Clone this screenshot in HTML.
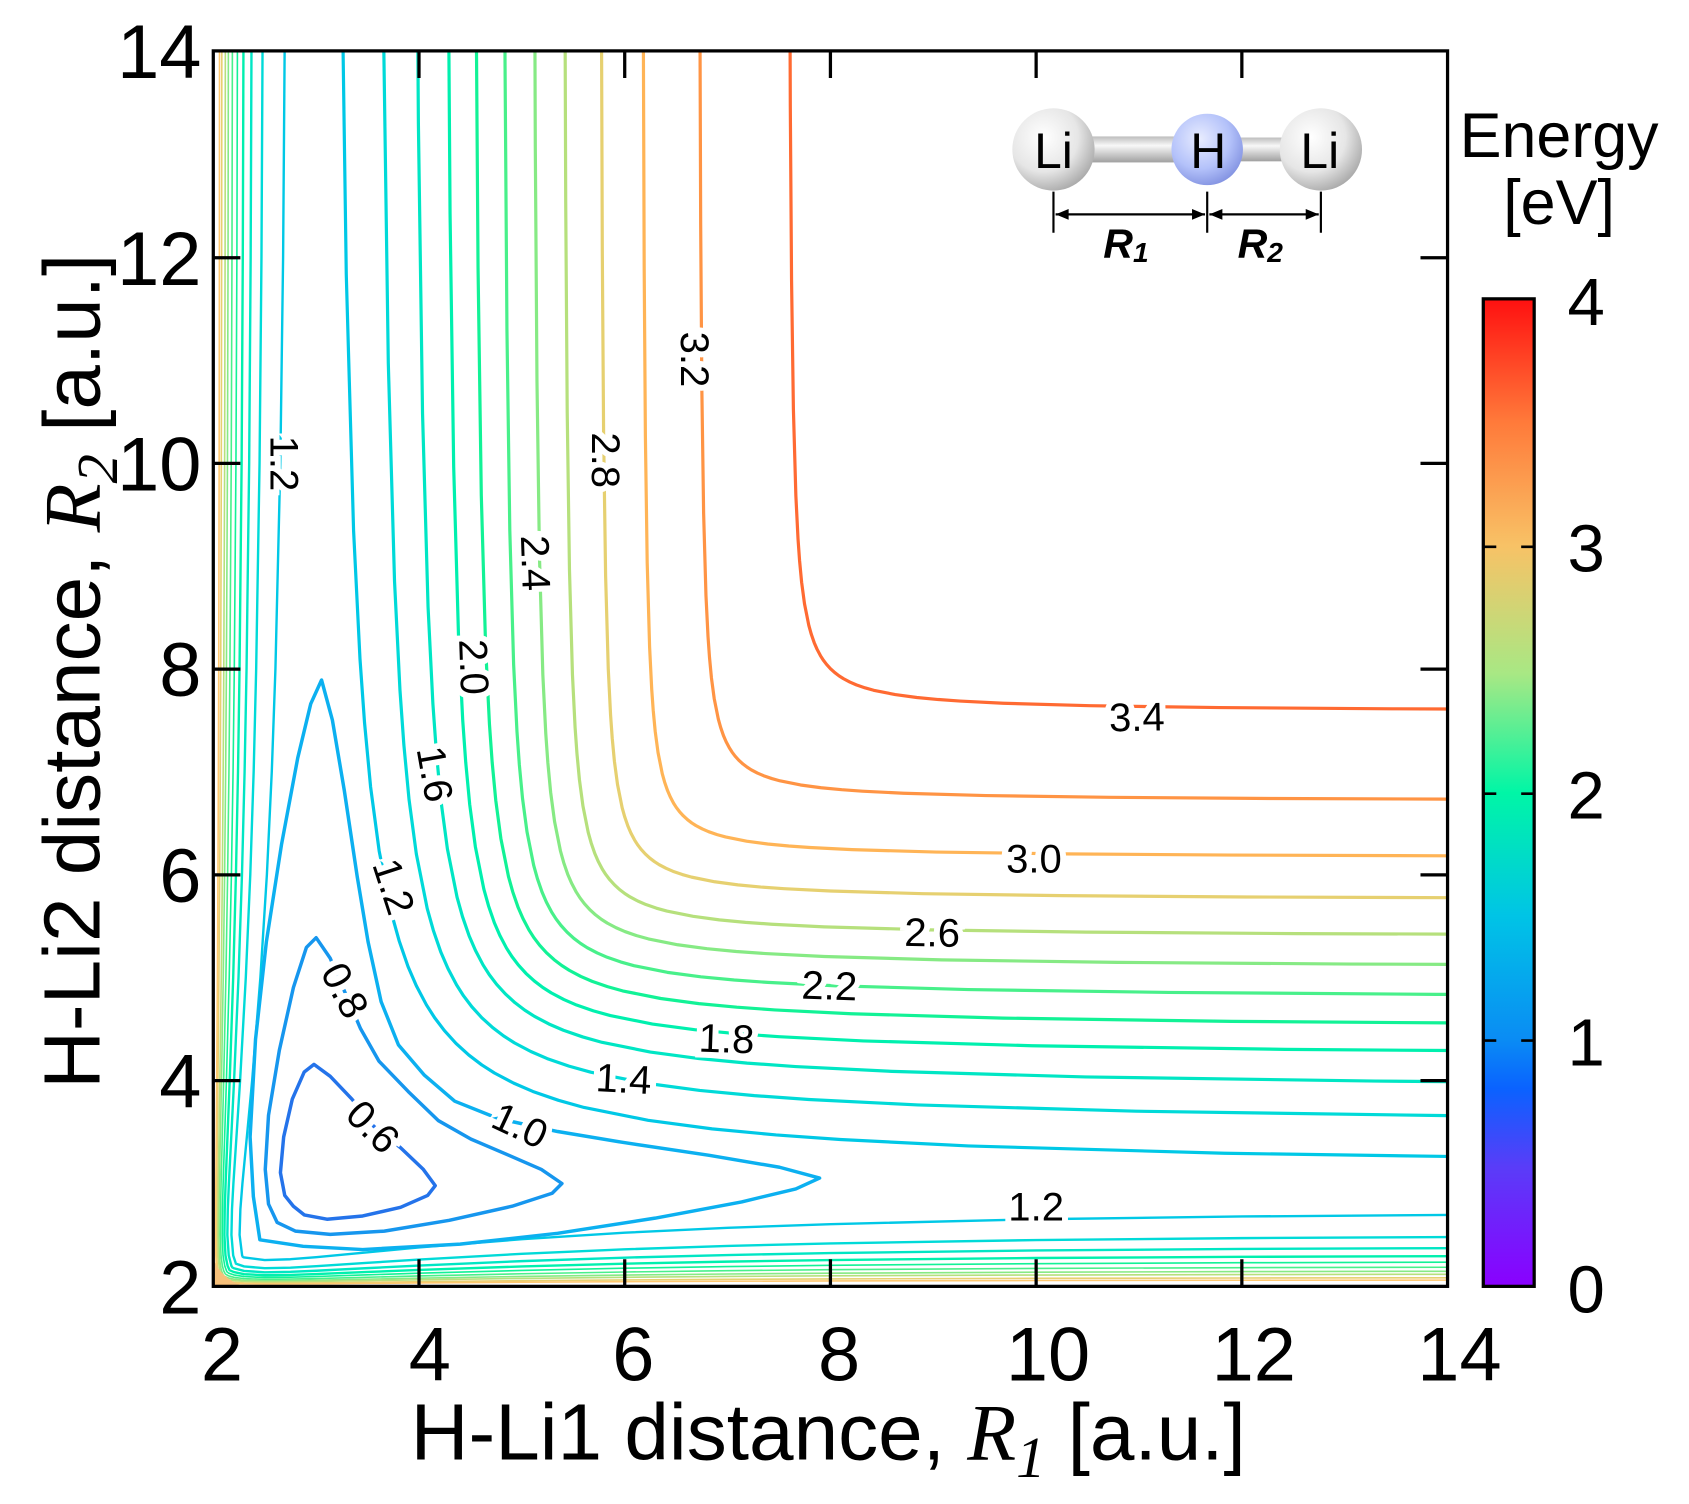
<!DOCTYPE html>
<html><head><meta charset="utf-8">
<style>
html,body{margin:0;padding:0;background:#fff;}
svg{display:block;}
text{font-family:"Liberation Sans",Arial,sans-serif;}
.lab{font-size:37px;fill:#000;stroke:#fff;stroke-width:11px;paint-order:stroke;text-anchor:middle;dominant-baseline:central;}
.tk{font-size:70px;fill:#000;}
.c{fill:none;stroke-width:3.2;stroke-linejoin:round;vector-effect:non-scaling-stroke;}
.o{fill:none;stroke-width:2.4;stroke-linejoin:round;vector-effect:non-scaling-stroke;}
.oh{fill:none;stroke-width:1.6;stroke-linejoin:round;vector-effect:non-scaling-stroke;}
.t{fill:none;stroke-width:3.2;stroke-linejoin:round;}
</style></head>
<body>
<svg width="1689" height="1504" viewBox="0 0 1560 1389" preserveAspectRatio="none" xmlns="http://www.w3.org/2000/svg">
<defs>
<linearGradient id="cb" x1="0" y1="1" x2="0" y2="0">
<stop offset="0" stop-color="#8a00ff"/>
<stop offset="0.12" stop-color="#5a3cf8"/>
<stop offset="0.2" stop-color="#0a62ff"/>
<stop offset="0.25" stop-color="#0a8cf4"/>
<stop offset="0.375" stop-color="#00c4e6"/>
<stop offset="0.5" stop-color="#00f6a6"/>
<stop offset="0.62" stop-color="#a8e884"/>
<stop offset="0.75" stop-color="#f8c266"/>
<stop offset="0.875" stop-color="#ff7a3a"/>
<stop offset="1" stop-color="#ff1010"/>
</linearGradient>
<radialGradient id="li" cx="0.38" cy="0.35" r="0.7">
<stop offset="0" stop-color="#ffffff"/><stop offset="0.6" stop-color="#e6e6e6"/><stop offset="1" stop-color="#a8a8a8"/>
</radialGradient>
<radialGradient id="hh" cx="0.4" cy="0.35" r="0.7">
<stop offset="0" stop-color="#e8ecff"/><stop offset="0.6" stop-color="#b4c2fa"/><stop offset="1" stop-color="#8090e0"/>
</radialGradient>
<linearGradient id="bond" x1="0" y1="0" x2="0" y2="1">
<stop offset="0" stop-color="#bdbdbd"/><stop offset="0.35" stop-color="#f8f8f8"/><stop offset="1" stop-color="#a0a0a0"/>
</linearGradient>
<clipPath id="pc"><rect x="197" y="47" width="1140" height="1141"/></clipPath>
<clipPath id="lowc"><polygon points="197,1188 1337,47 1340,47 1340,1190 197,1190"/></clipPath>
<clipPath id="upc"><polygon points="197,1188 1337,47 195,45 195,1188"/></clipPath>
<path id="hyp" d="M0.05,20L0.0714,14L0.1,10L0.1429,7L0.2,5L0.25,4L0.2857,3.5L0.333,3L0.4,2.5L0.5,2L0.556,1.8L0.625,1.6L0.69,1.45L0.769,1.3L0.833,1.2L0.909,1.1L1,1L1.1,0.909L1.2,0.833L1.3,0.769L1.45,0.69L1.6,0.625L1.8,0.556L2,0.5L2.5,0.4L3,0.333L3.5,0.2857L4,0.25L5,0.2L7,0.1429L10,0.1L14,0.0714L20,0.05"/>
</defs>

<g clip-path="url(#pc)">
<g transform="matrix(95 0 0 -95.08 7 1378.16)">
<g transform="translate(3.115 3.115) scale(1.245)"><path class="c" stroke="#00c8e6" d="M0.05,20L0.0714,14L0.1,10L0.1429,7L0.2,5L0.25,4L0.2857,3.5L0.333,3L0.4,2.5L0.5,2L0.556,1.8L0.625,1.6L0.69,1.45L0.769,1.3L0.833,1.2L0.909,1.1L1,1L1.1,0.909L1.2,0.833L1.3,0.769L1.45,0.69L1.6,0.625L1.8,0.556L2,0.5L2.5,0.4L3,0.333L3.5,0.2857L4,0.25L5,0.2L7,0.1429L10,0.1L14,0.0714L20,0.05"/></g>
<g transform="translate(3.55 3.55) scale(1.06)"><path class="c" stroke="#00dad8" d="M0.05,20L0.0714,14L0.1,10L0.1429,7L0.2,5L0.25,4L0.2857,3.5L0.333,3L0.4,2.5L0.5,2L0.556,1.8L0.625,1.6L0.69,1.45L0.769,1.3L0.833,1.2L0.909,1.1L1,1L1.1,0.909L1.2,0.833L1.3,0.769L1.45,0.69L1.6,0.625L1.8,0.556L2,0.5L2.5,0.4L3,0.333L3.5,0.2857L4,0.25L5,0.2L7,0.1429L10,0.1L14,0.0714L20,0.05"/></g>
<g transform="translate(3.9 3.9) scale(0.94)"><path class="c" stroke="#00e6c4" d="M0.05,20L0.0714,14L0.1,10L0.1429,7L0.2,5L0.25,4L0.2857,3.5L0.333,3L0.4,2.5L0.5,2L0.556,1.8L0.625,1.6L0.69,1.45L0.769,1.3L0.833,1.2L0.909,1.1L1,1L1.1,0.909L1.2,0.833L1.3,0.769L1.45,0.69L1.6,0.625L1.8,0.556L2,0.5L2.5,0.4L3,0.333L3.5,0.2857L4,0.25L5,0.2L7,0.1429L10,0.1L14,0.0714L20,0.05"/></g>
<g transform="translate(4.22 4.22) scale(0.82)"><path class="c" stroke="#00f0ae" d="M0.05,20L0.0714,14L0.1,10L0.1429,7L0.2,5L0.25,4L0.2857,3.5L0.333,3L0.4,2.5L0.5,2L0.556,1.8L0.625,1.6L0.69,1.45L0.769,1.3L0.833,1.2L0.909,1.1L1,1L1.1,0.909L1.2,0.833L1.3,0.769L1.45,0.69L1.6,0.625L1.8,0.556L2,0.5L2.5,0.4L3,0.333L3.5,0.2857L4,0.25L5,0.2L7,0.1429L10,0.1L14,0.0714L20,0.05"/></g>
<g transform="translate(4.5 4.5) scale(0.74)"><path class="c" stroke="#12f296" d="M0.05,20L0.0714,14L0.1,10L0.1429,7L0.2,5L0.25,4L0.2857,3.5L0.333,3L0.4,2.5L0.5,2L0.556,1.8L0.625,1.6L0.69,1.45L0.769,1.3L0.833,1.2L0.909,1.1L1,1L1.1,0.909L1.2,0.833L1.3,0.769L1.45,0.69L1.6,0.625L1.8,0.556L2,0.5L2.5,0.4L3,0.333L3.5,0.2857L4,0.25L5,0.2L7,0.1429L10,0.1L14,0.0714L20,0.05"/></g>
<g transform="translate(4.79 4.79) scale(0.65)"><path class="c" stroke="#48f08a" d="M0.05,20L0.0714,14L0.1,10L0.1429,7L0.2,5L0.25,4L0.2857,3.5L0.333,3L0.4,2.5L0.5,2L0.556,1.8L0.625,1.6L0.69,1.45L0.769,1.3L0.833,1.2L0.909,1.1L1,1L1.1,0.909L1.2,0.833L1.3,0.769L1.45,0.69L1.6,0.625L1.8,0.556L2,0.5L2.5,0.4L3,0.333L3.5,0.2857L4,0.25L5,0.2L7,0.1429L10,0.1L14,0.0714L20,0.05"/></g>
<g transform="translate(5.09 5.09) scale(0.57)"><path class="c" stroke="#86ea84" d="M0.05,20L0.0714,14L0.1,10L0.1429,7L0.2,5L0.25,4L0.2857,3.5L0.333,3L0.4,2.5L0.5,2L0.556,1.8L0.625,1.6L0.69,1.45L0.769,1.3L0.833,1.2L0.909,1.1L1,1L1.1,0.909L1.2,0.833L1.3,0.769L1.45,0.69L1.6,0.625L1.8,0.556L2,0.5L2.5,0.4L3,0.333L3.5,0.2857L4,0.25L5,0.2L7,0.1429L10,0.1L14,0.0714L20,0.05"/></g>
<g transform="translate(5.39 5.39) scale(0.51)"><path class="c" stroke="#b6e07c" d="M0.05,20L0.0714,14L0.1,10L0.1429,7L0.2,5L0.25,4L0.2857,3.5L0.333,3L0.4,2.5L0.5,2L0.556,1.8L0.625,1.6L0.69,1.45L0.769,1.3L0.833,1.2L0.909,1.1L1,1L1.1,0.909L1.2,0.833L1.3,0.769L1.45,0.69L1.6,0.625L1.8,0.556L2,0.5L2.5,0.4L3,0.333L3.5,0.2857L4,0.25L5,0.2L7,0.1429L10,0.1L14,0.0714L20,0.05"/></g>
<g transform="translate(5.75 5.75) scale(0.45)"><path class="c" stroke="#e6d070" d="M0.05,20L0.0714,14L0.1,10L0.1429,7L0.2,5L0.25,4L0.2857,3.5L0.333,3L0.4,2.5L0.5,2L0.556,1.8L0.625,1.6L0.69,1.45L0.769,1.3L0.833,1.2L0.909,1.1L1,1L1.1,0.909L1.2,0.833L1.3,0.769L1.45,0.69L1.6,0.625L1.8,0.556L2,0.5L2.5,0.4L3,0.333L3.5,0.2857L4,0.25L5,0.2L7,0.1429L10,0.1L14,0.0714L20,0.05"/></g>
<g transform="translate(6.16 6.16) scale(0.41)"><path class="c" stroke="#ffb456" d="M0.05,20L0.0714,14L0.1,10L0.1429,7L0.2,5L0.25,4L0.2857,3.5L0.333,3L0.4,2.5L0.5,2L0.556,1.8L0.625,1.6L0.69,1.45L0.769,1.3L0.833,1.2L0.909,1.1L1,1L1.1,0.909L1.2,0.833L1.3,0.769L1.45,0.69L1.6,0.625L1.8,0.556L2,0.5L2.5,0.4L3,0.333L3.5,0.2857L4,0.25L5,0.2L7,0.1429L10,0.1L14,0.0714L20,0.05"/></g>
<g transform="translate(6.71 6.71) scale(0.4)"><path class="c" stroke="#ff9444" d="M0.05,20L0.0714,14L0.1,10L0.1429,7L0.2,5L0.25,4L0.2857,3.5L0.333,3L0.4,2.5L0.5,2L0.556,1.8L0.625,1.6L0.69,1.45L0.769,1.3L0.833,1.2L0.909,1.1L1,1L1.1,0.909L1.2,0.833L1.3,0.769L1.45,0.69L1.6,0.625L1.8,0.556L2,0.5L2.5,0.4L3,0.333L3.5,0.2857L4,0.25L5,0.2L7,0.1429L10,0.1L14,0.0714L20,0.05"/></g>
<g transform="translate(7.58 7.58) scale(0.42)"><path class="c" stroke="#ff6a32" d="M0.05,20L0.0714,14L0.1,10L0.1429,7L0.2,5L0.25,4L0.2857,3.5L0.333,3L0.4,2.5L0.5,2L0.556,1.8L0.625,1.6L0.69,1.45L0.769,1.3L0.833,1.2L0.909,1.1L1,1L1.1,0.909L1.2,0.833L1.3,0.769L1.45,0.69L1.6,0.625L1.8,0.556L2,0.5L2.5,0.4L3,0.333L3.5,0.2857L4,0.25L5,0.2L7,0.1429L10,0.1L14,0.0714L20,0.05"/></g>
</g>

<g clip-path="url(#lowc)"><g transform="matrix(95 0 0 -95.08 7 1378.16) translate(2 2)">
<g transform="scale(1 0.71)"><path class="o" stroke="#00c8e6" d="M0,2.44L0.005,2.11L0.01,1.86L0.02,1.515L0.04,1.12L0.07,0.827L0.1,0.673L0.15,0.536L0.2,0.463L0.3,0.395L0.5,0.36L0.75,0.371L1,0.399L1.5,0.466L2,0.532L3,0.645L4,0.734L5,0.801L6,0.851L8,0.918L10,0.956L12.2,0.979"/></g>
<g transform="scale(1 0.49)"><path class="o" stroke="#00dad8" d="M0,2.44L0.005,2.11L0.01,1.86L0.02,1.515L0.04,1.12L0.07,0.827L0.1,0.673L0.15,0.536L0.2,0.463L0.3,0.395L0.5,0.36L0.75,0.371L1,0.399L1.5,0.466L2,0.532L3,0.645L4,0.734L5,0.801L6,0.851L8,0.918L10,0.956L12.2,0.979"/></g>
<g transform="scale(1 0.38)"><path class="o" stroke="#00e6c4" d="M0,2.44L0.005,2.11L0.01,1.86L0.02,1.515L0.04,1.12L0.07,0.827L0.1,0.673L0.15,0.536L0.2,0.463L0.3,0.395L0.5,0.36L0.75,0.371L1,0.399L1.5,0.466L2,0.532L3,0.645L4,0.734L5,0.801L6,0.851L8,0.918L10,0.956L12.2,0.979"/></g>
<g transform="scale(1 0.30)"><path class="o" stroke="#00f0ae" d="M0,2.44L0.005,2.11L0.01,1.86L0.02,1.515L0.04,1.12L0.07,0.827L0.1,0.673L0.15,0.536L0.2,0.463L0.3,0.395L0.5,0.36L0.75,0.371L1,0.399L1.5,0.466L2,0.532L3,0.645L4,0.734L5,0.801L6,0.851L8,0.918L10,0.956L12.2,0.979"/></g>
<g transform="scale(1 0.24)"><path class="oh" stroke="#12f296" d="M0,2.44L0.005,2.11L0.01,1.86L0.02,1.515L0.04,1.12L0.07,0.827L0.1,0.673L0.15,0.536L0.2,0.463L0.3,0.395L0.5,0.36L0.75,0.371L1,0.399L1.5,0.466L2,0.532L3,0.645L4,0.734L5,0.801L6,0.851L8,0.918L10,0.956L12.2,0.979"/></g>
<g transform="scale(1 0.19)"><path class="oh" stroke="#48f08a" d="M0,2.44L0.005,2.11L0.01,1.86L0.02,1.515L0.04,1.12L0.07,0.827L0.1,0.673L0.15,0.536L0.2,0.463L0.3,0.395L0.5,0.36L0.75,0.371L1,0.399L1.5,0.466L2,0.532L3,0.645L4,0.734L5,0.801L6,0.851L8,0.918L10,0.956L12.2,0.979"/></g>
<g transform="scale(1 0.15)"><path class="oh" stroke="#86ea84" d="M0,2.44L0.005,2.11L0.01,1.86L0.02,1.515L0.04,1.12L0.07,0.827L0.1,0.673L0.15,0.536L0.2,0.463L0.3,0.395L0.5,0.36L0.75,0.371L1,0.399L1.5,0.466L2,0.532L3,0.645L4,0.734L5,0.801L6,0.851L8,0.918L10,0.956L12.2,0.979"/></g>
<g transform="scale(1 0.12)"><path class="oh" stroke="#b6e07c" d="M0,2.44L0.005,2.11L0.01,1.86L0.02,1.515L0.04,1.12L0.07,0.827L0.1,0.673L0.15,0.536L0.2,0.463L0.3,0.395L0.5,0.36L0.75,0.371L1,0.399L1.5,0.466L2,0.532L3,0.645L4,0.734L5,0.801L6,0.851L8,0.918L10,0.956L12.2,0.979"/></g>
<g transform="scale(1 0.085)"><path class="oh" stroke="#e6d070" d="M0,2.44L0.005,2.11L0.01,1.86L0.02,1.515L0.04,1.12L0.07,0.827L0.1,0.673L0.15,0.536L0.2,0.463L0.3,0.395L0.5,0.36L0.75,0.371L1,0.399L1.5,0.466L2,0.532L3,0.645L4,0.734L5,0.801L6,0.851L8,0.918L10,0.956L12.2,0.979"/></g>
<g transform="scale(1 0.062)"><path class="oh" stroke="#ffc870" d="M0,2.44L0.005,2.11L0.01,1.86L0.02,1.515L0.04,1.12L0.07,0.827L0.1,0.673L0.15,0.536L0.2,0.463L0.3,0.395L0.5,0.36L0.75,0.371L1,0.399L1.5,0.466L2,0.532L3,0.645L4,0.734L5,0.801L6,0.851L8,0.918L10,0.956L12.2,0.979"/></g>
</g></g>

<g clip-path="url(#upc)"><g transform="matrix(95 0 0 -95.08 7 1378.16) translate(2 2)">
<g transform="scale(0.71 1)"><path class="o" stroke="#00c8e6" d="M2.44,0L2.11,0.005L1.86,0.01L1.515,0.02L1.12,0.04L0.827,0.07L0.673,0.1L0.536,0.15L0.463,0.2L0.395,0.3L0.36,0.5L0.371,0.75L0.399,1L0.466,1.5L0.532,2L0.645,3L0.734,4L0.801,5L0.851,6L0.918,8L0.956,10L0.979,12.2"/></g>
<g transform="scale(0.49 1)"><path class="o" stroke="#00dad8" d="M2.44,0L2.11,0.005L1.86,0.01L1.515,0.02L1.12,0.04L0.827,0.07L0.673,0.1L0.536,0.15L0.463,0.2L0.395,0.3L0.36,0.5L0.371,0.75L0.399,1L0.466,1.5L0.532,2L0.645,3L0.734,4L0.801,5L0.851,6L0.918,8L0.956,10L0.979,12.2"/></g>
<g transform="scale(0.38 1)"><path class="o" stroke="#00e6c4" d="M2.44,0L2.11,0.005L1.86,0.01L1.515,0.02L1.12,0.04L0.827,0.07L0.673,0.1L0.536,0.15L0.463,0.2L0.395,0.3L0.36,0.5L0.371,0.75L0.399,1L0.466,1.5L0.532,2L0.645,3L0.734,4L0.801,5L0.851,6L0.918,8L0.956,10L0.979,12.2"/></g>
<g transform="scale(0.30 1)"><path class="o" stroke="#00f0ae" d="M2.44,0L2.11,0.005L1.86,0.01L1.515,0.02L1.12,0.04L0.827,0.07L0.673,0.1L0.536,0.15L0.463,0.2L0.395,0.3L0.36,0.5L0.371,0.75L0.399,1L0.466,1.5L0.532,2L0.645,3L0.734,4L0.801,5L0.851,6L0.918,8L0.956,10L0.979,12.2"/></g>
<g transform="scale(0.24 1)"><path class="oh" stroke="#12f296" d="M2.44,0L2.11,0.005L1.86,0.01L1.515,0.02L1.12,0.04L0.827,0.07L0.673,0.1L0.536,0.15L0.463,0.2L0.395,0.3L0.36,0.5L0.371,0.75L0.399,1L0.466,1.5L0.532,2L0.645,3L0.734,4L0.801,5L0.851,6L0.918,8L0.956,10L0.979,12.2"/></g>
<g transform="scale(0.19 1)"><path class="oh" stroke="#48f08a" d="M2.44,0L2.11,0.005L1.86,0.01L1.515,0.02L1.12,0.04L0.827,0.07L0.673,0.1L0.536,0.15L0.463,0.2L0.395,0.3L0.36,0.5L0.371,0.75L0.399,1L0.466,1.5L0.532,2L0.645,3L0.734,4L0.801,5L0.851,6L0.918,8L0.956,10L0.979,12.2"/></g>
<g transform="scale(0.15 1)"><path class="oh" stroke="#86ea84" d="M2.44,0L2.11,0.005L1.86,0.01L1.515,0.02L1.12,0.04L0.827,0.07L0.673,0.1L0.536,0.15L0.463,0.2L0.395,0.3L0.36,0.5L0.371,0.75L0.399,1L0.466,1.5L0.532,2L0.645,3L0.734,4L0.801,5L0.851,6L0.918,8L0.956,10L0.979,12.2"/></g>
<g transform="scale(0.12 1)"><path class="oh" stroke="#b6e07c" d="M2.44,0L2.11,0.005L1.86,0.01L1.515,0.02L1.12,0.04L0.827,0.07L0.673,0.1L0.536,0.15L0.463,0.2L0.395,0.3L0.36,0.5L0.371,0.75L0.399,1L0.466,1.5L0.532,2L0.645,3L0.734,4L0.801,5L0.851,6L0.918,8L0.956,10L0.979,12.2"/></g>
<g transform="scale(0.085 1)"><path class="oh" stroke="#e6d070" d="M2.44,0L2.11,0.005L1.86,0.01L1.515,0.02L1.12,0.04L0.827,0.07L0.673,0.1L0.536,0.15L0.463,0.2L0.395,0.3L0.36,0.5L0.371,0.75L0.399,1L0.466,1.5L0.532,2L0.645,3L0.734,4L0.801,5L0.851,6L0.918,8L0.956,10L0.979,12.2"/></g>
<g transform="scale(0.062 1)"><path class="oh" stroke="#ffc870" d="M2.44,0L2.11,0.005L1.86,0.01L1.515,0.02L1.12,0.04L0.827,0.07L0.673,0.1L0.536,0.15L0.463,0.2L0.395,0.3L0.36,0.5L0.371,0.75L0.399,1L0.466,1.5L0.532,2L0.645,3L0.734,4L0.801,5L0.851,6L0.918,8L0.956,10L0.979,12.2"/></g>
</g></g>

<path class="t" stroke="#0cb0f0" d="M392,993L368,965L352,925L340,870L330,810L318,730L307,665L297,628L287,650L275,700L260,780L246,870L236,960L231,1050L234,1105L240,1145L280,1151L335,1154L425,1149L515,1139L605,1125L685,1110L735,1098L757,1088L720,1078L655,1067L575,1055L515,1045L460,1033L420,1017Z"/>
<path class="t" stroke="#1696ee" d="M377,1008L350,980L333,950L318,915L305,885L292,866L283,875L271,912L258,970L248,1030L245,1080L248,1112L256,1129L273,1137L305,1140L355,1137L415,1127L473,1114L510,1102L519,1093L500,1080L470,1067L435,1052L405,1035Z"/>
<path class="t" stroke="#2473ea" d="M345,1040L325,1015L305,994L290,983L281,990L270,1015L262,1050L259,1083L263,1104L271,1114L281,1122L302,1126L335,1123L370,1115L395,1104L402,1095L391,1080L370,1060Z"/>
<path d="M198,1165 Q205,1180 222,1187 L198,1187Z" fill="#f7c07a"/>
</g>

<g>
<text class="lab" transform="translate(262,428) rotate(90)">1.2</text>
<text class="lab" transform="translate(559,425) rotate(90)">2.8</text>
<text class="lab" transform="translate(641,332) rotate(90)">3.2</text>
<text class="lab" transform="translate(494,520) rotate(88)">2.4</text>
<text class="lab" transform="translate(437,616) rotate(88)">2.0</text>
<text class="lab" transform="translate(401,715) rotate(80)">1.6</text>
<text class="lab" transform="translate(363,819) rotate(72)">1.2</text>
<text class="lab" transform="translate(318,915) rotate(62)">0.8</text>
<text class="lab" transform="translate(344,1041) rotate(45)">0.6</text>
<text class="lab" transform="translate(480,1040) rotate(25)">1.0</text>
<text class="lab" transform="translate(576,997) rotate(3)">1.4</text>
<text class="lab" transform="translate(671,960) rotate(2)">1.8</text>
<text class="lab" transform="translate(766,911) rotate(2)">2.2</text>
<text class="lab" transform="translate(861,862) rotate(1)">2.6</text>
<text class="lab" transform="translate(955,794)">3.0</text>
<text class="lab" transform="translate(1050,663) rotate(-1)">3.4</text>
<text class="lab" transform="translate(957,1115)">1.2</text>
</g>

<rect x="197" y="47" width="1140" height="1141" fill="none" stroke="#000" stroke-width="3"/>
<g stroke="#000" stroke-width="3">
<path d="M387,1188v-25M577,1188v-25M767,1188v-25M957,1188v-25M1147,1188v-25"/>
<path d="M387,47v25M577,47v25M767,47v25M957,47v25M1147,47v25"/>
<path d="M197,998h25M197,808h25M197,618h25M197,428h25M197,238h25"/>
<path d="M1337,998h-25M1337,808h-25M1337,618h-25M1337,428h-25M1337,238h-25"/>
</g>
<g class="tk" text-anchor="end">
<text x="186" y="72">14</text><text x="186" y="263">12</text><text x="186" y="453">10</text>
<text x="186" y="643">8</text><text x="186" y="833">6</text><text x="186" y="1023">4</text><text x="186" y="1213">2</text>
</g>
<g class="tk" text-anchor="middle">
<text x="205" y="1275">2</text><text x="397" y="1275">4</text><text x="585" y="1275">6</text><text x="775" y="1275">8</text>
<text x="968" y="1275">10</text><text x="1158" y="1275">12</text><text x="1348" y="1275">14</text>
</g>
<text x="765" y="1348" text-anchor="middle" style="font-size:74px">H-Li1 distance, <tspan style="font-family:'Liberation Serif',serif;font-style:italic">R</tspan><tspan dy="16" style="font-family:'Liberation Serif',serif;font-style:italic;font-size:54px">1</tspan><tspan dy="-16"> [a.u.]</tspan></text>
<text transform="translate(92,620) rotate(-90)" text-anchor="middle" style="font-size:74px">H-Li2 distance, <tspan style="font-family:'Liberation Serif',serif;font-style:italic">R</tspan><tspan dy="16" style="font-family:'Liberation Serif',serif;font-style:italic;font-size:54px">2</tspan><tspan dy="-16"> [a.u.]</tspan></text>

<rect x="1370" y="276" width="47" height="912" fill="url(#cb)" stroke="#000" stroke-width="3"/>
<g stroke="#000" stroke-width="2.5">
<path d="M1370,505h12M1417,505h-12M1370,733h12M1417,733h-12M1370,961h12M1417,961h-12"/>
</g>
<g style="font-size:62px" text-anchor="middle">
<text x="1465" y="300">4</text><text x="1465" y="528">3</text><text x="1465" y="756">2</text><text x="1465" y="984">1</text><text x="1465" y="1212">0</text>
</g>
<g style="font-size:58px" text-anchor="middle">
<text x="1440" y="145">Energy</text><text x="1440" y="207">[eV]</text>
</g>

<rect x="1000" y="126" width="100" height="24" fill="url(#bond)"/>
<rect x="1130" y="127" width="70" height="22" fill="url(#bond)"/>
<circle cx="973" cy="138" r="38" fill="url(#li)"/>
<circle cx="1115" cy="138" r="33" fill="url(#hh)"/>
<circle cx="1220" cy="138" r="38" fill="url(#li)"/>
<g style="font-size:46px" text-anchor="middle">
<text x="973" y="155">Li</text><text x="1116" y="155">H</text><text x="1219" y="155">Li</text>
</g>
<g stroke="#000" stroke-width="2" fill="none">
<path d="M973,177v38M1115,177v38M1220,177v38M975,198h138M1117,198h101"/>
</g>
<g fill="#000">
<path d="M975,198l12,-5v10z"/><path d="M1113,198l-12,-5v10z"/>
<path d="M1117,198l12,-5v10z"/><path d="M1218,198l-12,-5v10z"/>
</g>
<g style="font-family:'Liberation Serif',serif;font-style:italic;font-weight:bold;font-size:38px" text-anchor="middle">
<text x="1040" y="238">R<tspan style="font-size:26px" dy="4">1</tspan></text>
<text x="1164" y="238">R<tspan style="font-size:26px" dy="4">2</tspan></text>
</g>
</svg>
</body></html>
